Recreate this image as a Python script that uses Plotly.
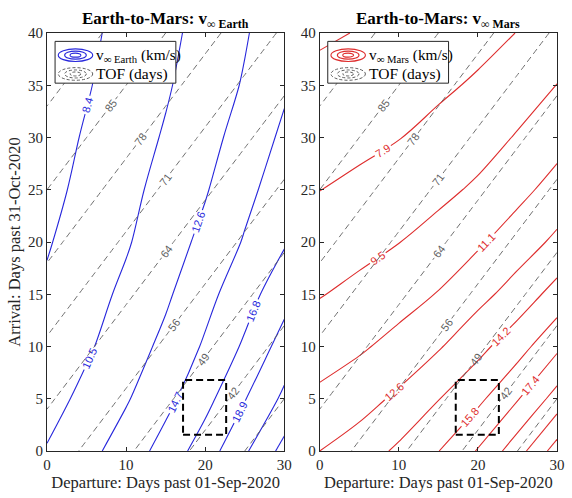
import numpy as np
import plotly.graph_objects as go

# ---------------- data ----------------
departure_days = [0, 5, 10, 15, 20, 25, 30]          # days past 01-Sep-2020
arrival_days = [0, 5, 10, 15, 20, 25, 30, 35, 40]    # days past 31-Oct-2020
date_gap_days = 60                                   # 01-Sep-2020 -> 31-Oct-2020

# v_inf at Earth departure (km/s), rows = arrival_days, cols = departure_days
vinf_earth = [
    [10.64, 11.99, 13.57, 15.52, 17.89, 20.75, 23.84],
    [9.75, 11.04, 12.43, 14.15, 16.18, 18.84, 21.48],
    [9.07, 10.23, 11.60, 13.12, 14.99, 17.14, 19.83],
    [8.68, 9.75, 10.91, 12.30, 14.08, 15.98, 18.14],
    [8.25, 9.29, 10.32, 11.65, 13.15, 14.90, 16.63],
    [7.87, 8.90, 9.97, 11.15, 12.46, 14.15, 15.84],
    [7.58, 8.59, 9.62, 10.69, 11.94, 13.41, 15.13],
    [7.25, 8.25, 9.28, 10.30, 11.50, 12.80, 14.40],
    [6.99, 8.00, 9.01, 10.02, 11.17, 12.44, 13.95],
]

# v_inf at Mars arrival (km/s)
vinf_mars = [
    [12.63, 13.37, 14.49, 15.75, 17.47, 19.84, 22.82],
    [11.38, 12.03, 12.92, 14.15, 15.43, 17.25, 19.57],
    [10.34, 10.84, 11.55, 12.48, 13.75, 15.13, 17.02],
    [9.40, 9.87, 10.43, 11.13, 12.13, 13.31, 14.78],
    [8.64, 9.00, 9.45, 10.04, 10.84, 11.82, 12.96],
    [7.88, 8.21, 8.64, 9.11, 9.71, 10.62, 11.61],
    [7.28, 7.55, 7.86, 8.33, 8.86, 9.59, 10.50],
    [6.69, 6.96, 7.27, 7.64, 8.09, 8.75, 9.50],
    [6.14, 6.38, 6.68, 7.04, 7.44, 7.93, 8.66],
]

tof_levels = [35, 42, 49, 56, 64, 71, 78, 85, 93]
earth_levels = dict(start=6.291, end=30.0, size=2.109)
mars_levels = dict(start=6.323, end=30.0, size=1.577)

box_departure = [17.2, 22.65]
box_arrival = [1.55, 6.8]

# ---------------- derived ----------------
dep = np.array(departure_days, dtype=float)
arr = np.array(arrival_days, dtype=float)
tof = date_gap_days + arr[:, None] - dep[None, :]   # time of flight (days)

BLUE = "rgb(40,40,220)"
RED = "rgb(222,45,45)"
GRAY = "rgb(95,95,95)"
AX = "#262626"
SERIF = "Liberation Serif"
SANS = "Liberation Sans"

fig = go.Figure()


def add_panel(xa, ya, zdata, levels, color):
    fig.add_trace(go.Contour(
        x=departure_days, y=arrival_days, z=zdata,
        contours=dict(coloring="none", showlabels=True, labelformat=".1f",
                      labelfont=dict(color=color, size=11, family=SANS), **levels),
        line=dict(color=color, width=1.1, smoothing=1.0),
        showscale=False, hoverinfo="skip", xaxis=xa, yaxis=ya,
    ))
    for lv in tof_levels:
        fig.add_trace(go.Contour(
            x=departure_days, y=arrival_days, z=tof,
            contours=dict(coloring="none", showlabels=True, start=lv, end=lv, size=1,
                          labelformat=".0f",
                          labelfont=dict(color=GRAY, size=11, family=SANS)),
            line=dict(color=GRAY, width=0.9, dash="6px,4px", smoothing=0),
            showscale=False, hoverinfo="skip", xaxis=xa, yaxis=ya,
        ))
    bx = [box_departure[0], box_departure[1], box_departure[1], box_departure[0], box_departure[0]]
    by = [box_arrival[0], box_arrival[0], box_arrival[1], box_arrival[1], box_arrival[0]]
    fig.add_trace(go.Scatter(x=bx, y=by, mode="lines", showlegend=False, hoverinfo="skip",
                             line=dict(color="black", width=2, dash="7px,4px"),
                             xaxis=xa, yaxis=ya))


add_panel("x", "y", vinf_earth, earth_levels, BLUE)
add_panel("x2", "y2", vinf_mars, mars_levels, RED)

axis_common = dict(showgrid=False, zeroline=False, showline=True, linecolor=AX, linewidth=1,
                   mirror="ticks", ticks="inside", ticklen=4, tickcolor=AX,
                   tickfont=dict(family=SERIF, size=15, color=AX))
title_font = dict(family=SERIF, size=16.5, color=AX)

fig.update_layout(
    width=572, height=498,
    margin=dict(l=47, r=7, t=33, b=47),
    paper_bgcolor="white", plot_bgcolor="white",
    showlegend=False,
    xaxis=dict(domain=[0, 0.4653], range=[0, 30], tickvals=[0, 10, 20, 30], anchor="y",
               title=dict(text="Departure: Days past 01-Sep-2020", standoff=4, font=title_font),
               **axis_common),
    yaxis=dict(domain=[0, 1], range=[0, 40], dtick=5, anchor="x",
               title=dict(text="Arrival: Days past 31-Oct-2020", standoff=3, font=title_font),
               **axis_common),
    xaxis2=dict(domain=[0.5347, 1], range=[0, 30], tickvals=[0, 10, 20, 30], anchor="y2",
                title=dict(text="Departure: Days past 01-Sep-2020", standoff=4, font=title_font),
                **axis_common),
    yaxis2=dict(domain=[0, 1], range=[0, 40], dtick=5, anchor="x2", **axis_common),
)

shapes = []
annotations = []
for xa, ya, color, label, title in [
    ("x", "y", BLUE, "v<sub>∞ Earth</sub> (km/s)", "<b>Earth-to-Mars: v<sub>∞ Earth</sub></b>"),
    ("x2", "y2", RED, "v<sub>∞ Mars</sub> (km/s)", "<b>Earth-to-Mars: v<sub>∞ Mars</sub></b>"),
]:
    xr, yr = xa + " domain", ya + " domain"
    shapes.append(dict(type="rect", xref=xr, yref=yr, x0=0.034, x1=0.543, y0=0.88, y1=0.98,
                       fillcolor="white", line=dict(color=AX, width=1), layer="above"))
    cx, cy1, cy2 = 0.12, 0.947, 0.902
    for hw, hh in [(0.0726, 0.0151), (0.0456, 0.0096), (0.0228, 0.0048)]:
        shapes.append(dict(type="circle", xref=xr, yref=yr, x0=cx - hw, x1=cx + hw,
                           y0=cy1 - hh, y1=cy1 + hh, line=dict(color=color, width=1.1),
                           layer="above"))
        shapes.append(dict(type="circle", xref=xr, yref=yr, x0=cx - hw, x1=cx + hw,
                           y0=cy2 - hh, y1=cy2 + hh,
                           line=dict(color=GRAY, width=1, dash="3px,2px"), layer="above"))
    annotations.append(dict(xref=xr, yref=yr, x=0.2, y=cy1, xanchor="left", yanchor="middle",
                            text=label, showarrow=False,
                            font=dict(family=SERIF, size=15.3, color="black")))
    annotations.append(dict(xref=xr, yref=yr, x=0.2, y=cy2, xanchor="left", yanchor="middle",
                            text="TOF (days)", showarrow=False,
                            font=dict(family=SERIF, size=15.5, color="black")))
    annotations.append(dict(xref=xr, yref="paper", x=0.5, y=1, xanchor="center", yanchor="bottom",
                            yshift=0, text=title, showarrow=False,
                            font=dict(family=SERIF, size=17, color="black")))

fig.update_layout(shapes=shapes, annotations=annotations)
fig.write_html("out.html")
